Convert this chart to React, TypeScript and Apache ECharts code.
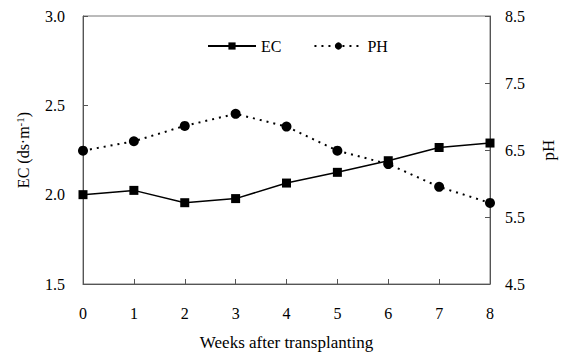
import React, { useEffect, useRef } from "react";
import * as echarts from "echarts";

const weeks = ["0", "1", "2", "3", "4", "5", "6", "7", "8"];
const ecValues = [2.0, 2.024, 1.955, 1.978, 2.065, 2.125, 2.19, 2.264, 2.289];
const phValues = [6.49, 6.63, 6.86, 7.04, 6.85, 6.49, 6.29, 5.95, 5.71];

const FONT = "'Liberation Serif', 'Times New Roman', serif";

export default function App() {
  const ref = useRef<HTMLDivElement>(null);
  useEffect(() => {
    if (!ref.current) return;
    const chart = echarts.init(ref.current, undefined, { renderer: "svg" });
    const axisLine = { show: true, lineStyle: { color: "#555", width: 1 } };
    chart.setOption({
      animation: false,
      textStyle: { fontFamily: FONT, color: "#000" },
      grid: {
        left: 83,
        right: 75,
        top: 16,
        bottom: 69,
        show: true,
        borderColor: "#777",
        borderWidth: 1,
        outerBoundsMode: "none",
      },
      legend: {
        top: 33,
        left: 202,
        itemWidth: 48,
        itemHeight: 9,
        itemGap: 32,
        textStyle: { fontFamily: FONT, fontSize: 16, color: "#000" },
        data: ["EC", "PH"],
      },
      xAxis: {
        type: "category",
        data: weeks,
        boundaryGap: false,
        axisLine,
        axisTick: { show: true, inside: true, length: 5, lineStyle: { color: "#555" } },
        axisLabel: { fontFamily: FONT, fontSize: 16, color: "#000", margin: 21 },
        splitLine: { show: false },
        name: "Weeks after transplanting",
        nameLocation: "middle",
        nameGap: 50,
        nameTextStyle: { fontFamily: FONT, fontSize: 17, color: "#000" },
      },
      yAxis: [
        {
          type: "value",
          min: 1.5,
          max: 3.0,
          interval: 0.5,
          position: "left",
          axisLine,
          axisTick: { show: true, inside: true, length: 5, lineStyle: { color: "#555" } },
          axisLabel: {
            fontFamily: FONT,
            fontSize: 16,
            color: "#000",
            margin: 18,
            formatter: (v: number) => v.toFixed(1),
          },
          splitLine: { show: false },
          name: "EC (ds·m{sup|-1})",
          nameLocation: "middle",
          nameGap: 51,
          nameRotate: 90,
          nameTextStyle: {
            fontFamily: FONT,
            fontSize: 16,
            color: "#000",
            rich: {
              sup: { fontFamily: FONT, fontSize: 11, color: "#000", verticalAlign: "top", padding: [0, 0, 7, 0] },
            },
          },
        },
        {
          type: "value",
          min: 4.5,
          max: 8.5,
          interval: 1,
          position: "right",
          axisLine,
          axisTick: { show: true, inside: true, length: 5, lineStyle: { color: "#555" } },
          axisLabel: {
            fontFamily: FONT,
            fontSize: 16,
            color: "#000",
            margin: 15,
            formatter: (v: number) => v.toFixed(1),
          },
          splitLine: { show: false },
          name: "pH",
          nameLocation: "middle",
          nameGap: 50,
          nameRotate: 90,
          nameTextStyle: { fontFamily: FONT, fontSize: 17, color: "#000" },
        },
      ],
      series: [
        {
          name: "EC",
          type: "line",
          yAxisIndex: 0,
          data: ecValues,
          symbol: "rect",
          symbolSize: 9,
          itemStyle: { color: "#000" },
          lineStyle: { color: "#000", width: 1.5, type: "solid" },
        },
        {
          name: "PH",
          type: "line",
          yAxisIndex: 1,
          data: phValues,
          symbol: "circle",
          symbolSize: 10,
          itemStyle: { color: "#000" },
          lineStyle: { color: "#000", width: 2, type: [2, 5] },
        },
      ],
    });
    return () => chart.dispose();
  }, []);
  return <div ref={ref} style={{ width: 565, height: 353, position: "absolute", left: 0, top: 0 }} />;
}
